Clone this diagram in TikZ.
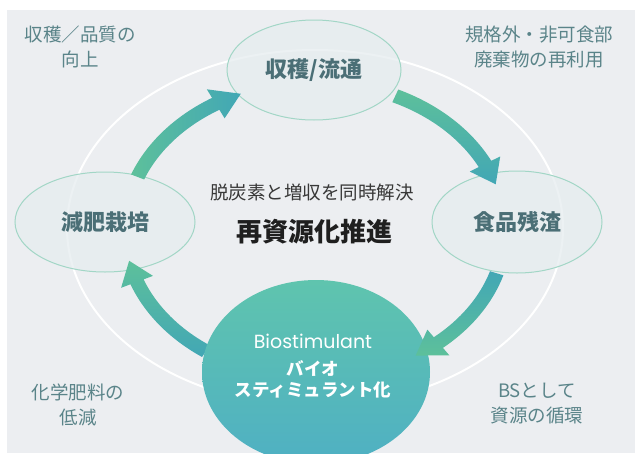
\documentclass[tikz,border=0pt]{standalone}
\usepackage{fontspec}
\newfontfamily\jp{Noto Sans CJK JP}
\newfontfamily\pop{Poppins}
\usetikzlibrary{calc,shapes.geometric}
\definecolor{bg}{HTML}{ECEEF1}
\definecolor{arrG}{HTML}{5DC09B}
\definecolor{arrT}{HTML}{42A7B5}
\definecolor{nodeline}{HTML}{A2D6C6}
\definecolor{nodefill}{HTML}{E6EDEF}
\definecolor{nodetext}{HTML}{4B6F76}
\definecolor{cornertext}{HTML}{5A8489}
\definecolor{circT}{HTML}{5FC4AE}
\definecolor{circB}{HTML}{4FB0C3}
\tikzset{
  stage/.style={ellipse, draw=nodeline, line width=1pt, fill=nodefill, fill opacity=0.75, text opacity=1,
    inner sep=0pt, text=nodetext, font=\jp\bfseries\fontsize{22}{24}\selectfont},
  corner/.style={align=center, text=cornertext, font=\jp\fontsize{18.5}{25}\selectfont},
}
% cyclic arrow along an ellipse around (A): #1 start angle, #2 tip angle, #3 shading options
\newcommand\cyclearrow[3]{%
  \pgfmathsetmacro\hb{#2-8.5}%
  \shade[#3] ($(A)+(#1:197 and 155)$) arc[start angle=#1, end angle=\hb, x radius=197, y radius=155]
    -- ($(A)+(\hb:207 and 165)$) -- ($(A)+(#2:190 and 148)$) -- ($(A)+(\hb:173 and 131)$)
    -- ($(A)+(\hb:183 and 141)$) arc[start angle=\hb, end angle=#1, x radius=183, y radius=141] -- cycle;}
\begin{document}
\begin{tikzpicture}[x=1pt,y=-1pt]
\useasboundingbox (0,0) rectangle (635,453);
\fill[white] (0,0) rectangle (635,453);
\fill[bg] (7,10) rectangle (635,453);
\begin{scope}
\clip (7,10) rectangle (635,453);
\coordinate (C) at (315,228);
\coordinate (A) at (315,230);
\draw[white, line width=2pt] (C) ellipse [x radius=248, y radius=178];

% corner labels
\node[corner] (tl) at (80,47) {収穫／品質の\\向上};
\node[corner] (tr) at (539,47) {規格外・非可食部\\廃棄物の再利用};
\node[corner] (bl) at (78,405) {化学肥料の\\低減};
\node[corner] (br) at (537,404) {BSとして\\資源の循環};

% stage nodes
\node[stage, minimum width=174pt, minimum height=100pt] (harvest) at (314,70) {収穫/流通};
\node[stage, minimum width=180pt, minimum height=100pt] (fert) at (105,222) {減肥栽培};
\node[stage, minimum width=170pt, minimum height=102pt] (food) at (517,222) {食品残渣};

% arrows
\cyclearrow{201}{247}{left color=arrG, right color=arrT}
\cyclearrow{295}{342}{top color=arrG, bottom color=arrT}
\cyclearrow{125}{168}{top color=arrG, bottom color=arrT}

% bottom circle
\node[ellipse, minimum width=228pt, minimum height=184pt, inner sep=0pt, top color=circT, bottom color=circB] (bs) at (316,372) {};
\cyclearrow{17}{58}{top color=arrT, bottom color=arrG}

\node[text=white, font=\pop\fontsize{19}{22}\selectfont] (bsen) at (313,341) {Biostimulant};
\node[text=white, align=center, font=\jp\bfseries\fontsize{17.5}{21}\selectfont] (bsjp) at (313,379) {バイオ\\スティミュラント化};

% center text
\node[text=black!78, font=\jp\fontsize{18.5}{22}\selectfont] (sub) at (312,192) {脱炭素と増収を同時解決};
\node[text=black!88, font=\jp\bfseries\fontsize{26}{30}\selectfont] (main) at (314,232) {再資源化推進};
\end{scope}
\end{tikzpicture}
\end{document}
